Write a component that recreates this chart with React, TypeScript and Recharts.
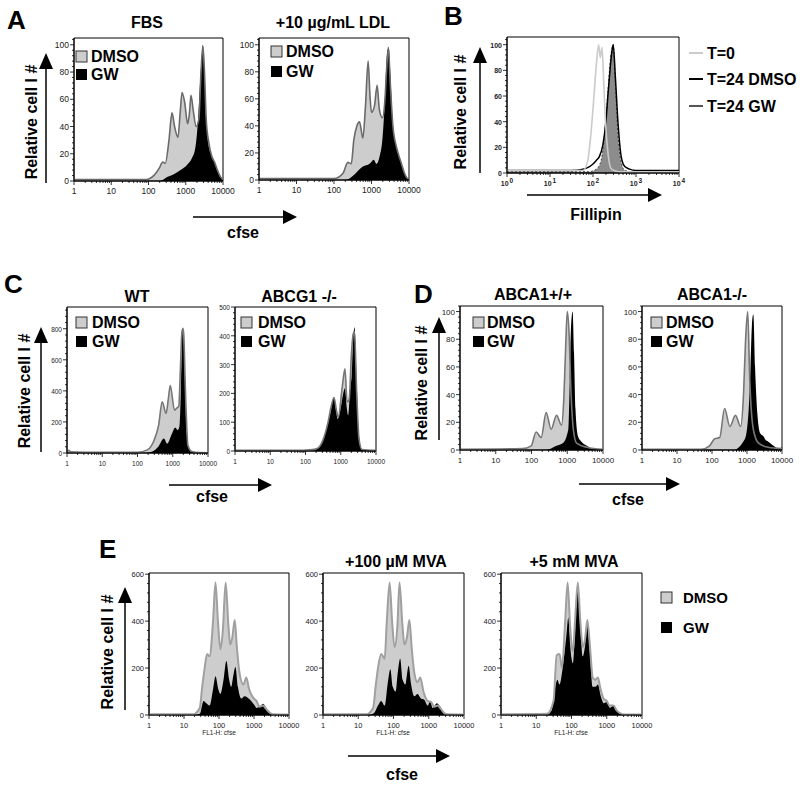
import React from 'react';
import { ComposedChart, Area, Line, XAxis, YAxis, ReferenceArea } from 'recharts';

const FONT = '"Liberation Sans", Arial, Helvetica, sans-serif';

// x values are in decades of the cfse / fillipin channel (0 = 1, 4 = 10000)
// y values are relative cell number

// A: FBS
const a1DmsoX = [0, 1.9, 2.14, 2.3, 2.38, 2.45, 2.55, 2.63, 2.7, 2.79, 2.85, 2.9, 2.97, 3.05, 3.1, 3.14, 3.2, 3.28, 3.35, 3.41, 3.46, 3.5, 3.55, 3.62, 3.7, 3.77, 3.85, 3.93, 4];
const a1DmsoY = [1, 1, 4, 10, 14, 13, 30, 50, 40, 32, 50, 65, 58, 42, 50, 63, 52, 40, 45, 80, 99, 82, 45, 28, 18, 14, 8, 3, 1];
const a1GwX = [0, 2.3, 2.5, 2.68, 2.86, 3.04, 3.17, 3.26, 3.33, 3.39, 3.43, 3.46, 3.5, 3.55, 3.62, 3.71, 3.8, 3.88, 3.97, 4];
const a1GwY = [0, 0, 3, 5, 8, 12, 17, 25, 45, 75, 92, 100, 80, 45, 25, 18, 12, 6, 2, 0];

// A: +10 ug/mL LDL
const a2DmsoX = [0, 2.0, 2.24, 2.37, 2.46, 2.53, 2.61, 2.68, 2.77, 2.84, 2.91, 2.96, 3.0, 3.08, 3.15, 3.21, 3.29, 3.36, 3.41, 3.45, 3.5, 3.57, 3.66, 3.73, 3.8, 3.88, 3.97, 4];
const a2DmsoY = [1, 1, 5, 13, 12, 30, 40, 43, 31, 55, 88, 62, 50, 55, 70, 52, 46, 60, 85, 98, 72, 40, 25, 18, 12, 5, 1, 1];
const a2GwX = [0, 2.3, 2.5, 2.77, 2.95, 3.06, 3.13, 3.22, 3.29, 3.35, 3.42, 3.46, 3.5, 3.56, 3.62, 3.71, 3.8, 3.88, 3.97, 4];
const a2GwY = [0, 0, 3, 10, 12, 15, 12, 18, 30, 55, 95, 98, 80, 45, 30, 20, 12, 5, 1, 0];

// B: fillipin
const bT0X = [0, 1.77, 1.88, 1.95, 2.0, 2.08, 2.13, 2.17, 2.21, 2.25, 2.29, 2.35, 2.43, 2.6, 4];
const bT0Y = [2, 2, 10, 30, 50, 85, 100, 90, 98, 70, 40, 15, 3, 1, 1];
const bDmsoX = [0, 1.5, 1.77, 1.92, 2.0, 2.08, 2.15, 2.23, 2.3, 2.35, 2.4, 2.43, 2.47, 2.52, 2.58, 2.66, 2.74, 2.85, 3.0, 3.4, 4];
const bDmsoY = [2, 2, 3, 5, 7, 10, 13, 22, 40, 62, 82, 92, 100, 75, 40, 12, 5, 3, 2, 2, 2];
const bGwX = [0, 1.9, 2.08, 2.19, 2.27, 2.35, 2.41, 2.47, 2.52, 2.58, 2.66, 2.74, 2.9, 4];
const bGwY = [1, 1, 3, 10, 30, 65, 90, 100, 70, 30, 8, 2, 1, 1];

// C: WT
const c1DmsoX = [0, 0.05, 0.1, 0.5, 1.5, 2.0, 2.28, 2.47, 2.6, 2.7, 2.81, 2.87, 2.93, 3.05, 3.12, 3.17, 3.22, 3.26, 3.29, 3.31, 3.36, 3.43, 3.54, 3.73, 4];
const c1DmsoY = [10, 17, 8, 5, 5, 5, 20, 82, 180, 330, 255, 340, 435, 276, 290, 300, 560, 780, 800, 770, 400, 50, 10, 3, 2];
const c1GwX = [0, 2.2, 2.42, 2.59, 2.75, 2.84, 2.98, 3.07, 3.14, 3.19, 3.23, 3.26, 3.29, 3.33, 3.38, 3.45, 3.54, 4];
const c1GwY = [0, 0, 10, 40, 93, 60, 125, 164, 147, 170, 400, 700, 810, 600, 200, 30, 5, 0];

// C: ABCG1 -/-
const c2DmsoX = [0, 1.68, 2.2, 2.35, 2.5, 2.64, 2.72, 2.81, 2.88, 2.93, 3.04, 3.12, 3.18, 3.24, 3.3, 3.35, 3.39, 3.45, 3.52, 3.6, 4];
const c2DmsoY = [2, 2, 5, 10, 40, 100, 150, 186, 140, 117, 220, 285, 170, 180, 330, 405, 415, 210, 40, 5, 2];
const c2GwX = [0, 2.2, 2.35, 2.5, 2.59, 2.69, 2.81, 2.87, 2.91, 3.0, 3.07, 3.12, 3.17, 3.21, 3.27, 3.31, 3.35, 3.39, 3.45, 3.52, 3.6, 4];
const c2GwY = [0, 0, 10, 35, 75, 123, 186, 140, 111, 150, 200, 218, 150, 123, 220, 260, 380, 430, 250, 50, 5, 0];

// D: ABCA1+/+
const d1DmsoX = [0, 1.75, 1.99, 2.13, 2.27, 2.41, 2.55, 2.7, 2.84, 2.9, 2.95, 3.0, 3.05, 3.1, 3.17, 3.26, 3.55, 4];
const d1DmsoY = [0.5, 1, 3, 13, 9, 27, 15, 25, 18, 35, 70, 100, 85, 45, 15, 5, 2, 0.5];
const d1GwX = [0, 2.4, 2.7, 2.88, 3.03, 3.07, 3.1, 3.15, 3.19, 3.23, 3.3, 3.4, 3.55, 3.69, 4];
const d1GwY = [0, 0, 3, 5, 15, 50, 85, 100, 70, 30, 10, 6, 3, 1, 0];

// D: ABCA1-/-
const d2DmsoX = [0, 1.69, 1.93, 2.07, 2.22, 2.36, 2.51, 2.67, 2.82, 2.9, 2.96, 3.02, 3.08, 3.18, 3.33, 3.6, 4];
const d2DmsoY = [0.5, 0.5, 3, 8, 9, 30, 17, 25, 17, 40, 80, 100, 50, 15, 5, 2, 1];
const d2GwX = [0, 2.6, 2.94, 3.05, 3.1, 3.14, 3.18, 3.23, 3.3, 3.38, 3.47, 3.54, 3.61, 3.76, 3.9, 4];
const d2GwY = [0, 0, 8, 30, 60, 90, 98, 60, 25, 12, 10, 7, 6, 3, 1, 2];

// E: no MVA
const e1DmsoX = [0, 1.26, 1.45, 1.52, 1.59, 1.66, 1.73, 1.83, 1.9, 1.97, 2.04, 2.11, 2.19, 2.27, 2.32, 2.38, 2.45, 2.51, 2.59, 2.7, 2.78, 2.86, 2.97, 3.07, 3.16, 3.26, 3.35, 3.45, 3.54, 4];
const e1DmsoY = [3, 3, 30, 120, 200, 260, 250, 400, 565, 400, 280, 360, 565, 380, 300, 330, 405, 290, 175, 130, 160, 110, 75, 60, 35, 40, 25, 10, 3, 2];
const e1GwX = [0, 1.3, 1.45, 1.56, 1.64, 1.73, 1.83, 1.9, 1.98, 2.04, 2.13, 2.21, 2.29, 2.35, 2.4, 2.47, 2.54, 2.64, 2.73, 2.81, 2.92, 3.02, 3.07, 3.16, 3.26, 3.35, 3.45, 3.54, 4];
const e1GwY = [0, 0, 5, 60, 50, 40, 110, 165, 110, 90, 150, 230, 150, 120, 160, 205, 120, 70, 80, 75, 60, 40, 30, 35, 48, 30, 10, 2, 0];

// E: +100 uM MVA
const e2DmsoX = [0, 1.23, 1.42, 1.5, 1.56, 1.65, 1.75, 1.81, 1.89, 1.96, 2.03, 2.11, 2.17, 2.25, 2.31, 2.38, 2.45, 2.52, 2.59, 2.68, 2.76, 2.85, 2.97, 3.07, 3.16, 3.25, 3.35, 3.44, 3.53, 4];
const e2DmsoY = [3, 3, 30, 130, 200, 260, 240, 400, 565, 400, 290, 380, 565, 390, 300, 330, 405, 280, 180, 140, 160, 100, 60, 55, 35, 40, 25, 8, 3, 2];
const e2GwX = [0, 1.3, 1.45, 1.56, 1.65, 1.75, 1.84, 1.91, 1.98, 2.06, 2.12, 2.19, 2.26, 2.34, 2.38, 2.43, 2.5, 2.59, 2.68, 2.78, 2.87, 2.97, 3.04, 3.11, 3.23, 3.3, 3.4, 3.49, 4];
const e2GwY = [0, 0, 8, 40, 60, 40, 140, 195, 120, 100, 180, 240, 150, 130, 170, 210, 130, 80, 90, 70, 65, 40, 60, 30, 50, 40, 15, 3, 0];

// E: +5 mM MVA
const e3DmsoX = [0, 1.3, 1.49, 1.58, 1.66, 1.73, 1.82, 1.89, 1.96, 2.04, 2.1, 2.18, 2.25, 2.32, 2.39, 2.45, 2.53, 2.6, 2.67, 2.75, 2.81, 2.91, 3.0, 3.08, 3.19, 3.28, 3.42, 3.53, 4];
const e3DmsoY = [3, 5, 60, 255, 260, 200, 400, 565, 380, 270, 400, 565, 400, 290, 330, 405, 280, 160, 150, 160, 120, 70, 60, 40, 40, 20, 5, 2, 2];
const e3GwX = [0, 1.3, 1.44, 1.54, 1.6, 1.66, 1.75, 1.85, 1.91, 1.96, 2.04, 2.1, 2.17, 2.25, 2.32, 2.39, 2.45, 2.53, 2.6, 2.68, 2.75, 2.83, 2.92, 3.0, 3.09, 3.19, 3.3, 3.42, 3.53, 4];
const e3GwY = [0, 0, 20, 120, 150, 130, 200, 330, 415, 300, 220, 350, 560, 380, 250, 300, 385, 250, 120, 120, 130, 80, 50, 55, 30, 40, 20, 5, 0, 0];

type Curve = { key: string; x: number[]; y: number[] };
type Layer = { key: string; kind: 'area' | 'line'; fill?: string; stroke?: string; width?: number; dash?: string };

function buildRows(curves: Curve[]) {
  const xs = Array.from(new Set(curves.flatMap((c) => c.x))).sort((a, b) => a - b);
  return xs.map((x) => {
    const row: Record<string, number | null> = { x };
    curves.forEach((c) => {
      const i = c.x.indexOf(x);
      row[c.key] = i >= 0 ? c.y[i] : null;
    });
    return row;
  });
}

// log-style ticks: majors at decades, minors at 2..9
const LOG_TICKS: number[] = [];
for (let d = 0; d < 4; d++) {
  for (let k = 1; k <= 9; k++) LOG_TICKS.push(d + Math.log10(k));
}
LOG_TICKS.push(4);

function linTicks(max: number, step: number) {
  const t: number[] = [];
  for (let i = 0; i * step <= max + 1e-9; i++) t.push(i * step);
  return t;
}

const XTick = (props: any) => {
  const { x, y, payload, fs, bold, pow } = props;
  const v = payload.value as number;
  const major = Math.abs(v - Math.round(v)) < 1e-6;
  return (
    <g>
      <line x1={x} x2={x} y1={y} y2={y + (major ? 4 : 2)} stroke="#000" strokeWidth={0.8} />
      {major &&
        (pow ? (
          <text x={x} y={y + 13} textAnchor="middle" fontSize={fs} fontWeight="bold" fontFamily={FONT} fill="#222">
            10
            <tspan dx={1} dy={-3} fontSize={fs - 0.5}>
              {Math.round(v)}
            </tspan>
          </text>
        ) : (
          <text x={x} y={y + 13} textAnchor="middle" fontSize={fs} fontWeight={bold ? 'bold' : 'normal'} fontFamily={FONT} fill="#222">
            {Math.round(10 ** v)}
          </text>
        ))}
    </g>
  );
};

const YTick = (props: any) => {
  const { x, y, payload, fs, bold, major } = props;
  const v = payload.value as number;
  const isMajor = Math.abs(v / major - Math.round(v / major)) < 1e-6;
  return (
    <g>
      <line x1={x} x2={x - (isMajor ? 4 : 2)} y1={y} y2={y} stroke="#000" strokeWidth={0.8} />
      {isMajor && (
        <text x={x - 5} y={y + 3} textAnchor="end" fontSize={fs} fontWeight={bold ? 'bold' : 'normal'} fontFamily={FONT} fill="#222">
          {v}
        </text>
      )}
    </g>
  );
};

interface HistoProps {
  x: number;
  y: number;
  w: number;
  h: number;
  yTop: number;
  yMajor: number;
  yMinor: number;
  curves: Curve[];
  layers: Layer[];
  fs: number;
  bold?: boolean;
  pow?: boolean;
}

const AX_W = 34;
const AX_H = 22;
const PAD = 6;
const RIGHT = 20;

const Histo: React.FC<HistoProps> = (p) => {
  const rows = buildRows(p.curves);
  const yTicks = linTicks(Math.floor(p.yTop / p.yMinor) * p.yMinor, p.yMinor);
  return (
    <div style={{ position: 'absolute', left: p.x - AX_W, top: p.y - PAD }}>
      <ComposedChart
        width={p.w + AX_W + RIGHT}
        height={p.h + PAD + AX_H}
        data={rows}
        margin={{ top: PAD, right: RIGHT, bottom: 0, left: 0 }}
      >
        <XAxis
          dataKey="x"
          type="number"
          domain={[0, 4]}
          ticks={LOG_TICKS}
          interval={0}
          height={AX_H}
          tickLine={false}
          tickSize={0}
          tickMargin={0}
          axisLine={{ stroke: '#000' }}
          tick={<XTick fs={p.fs} bold={p.bold} pow={p.pow} />}
        />
        <YAxis
          type="number"
          domain={[0, p.yTop]}
          ticks={yTicks}
          interval={0}
          width={AX_W}
          tickLine={false}
          tickSize={0}
          tickMargin={0}
          axisLine={{ stroke: '#000' }}
          tick={<YTick fs={p.fs} bold={p.bold} major={p.yMajor} />}
        />
        {p.layers.map((l, i) =>
          l.kind === 'area' ? (
            <Area
              key={i}
              dataKey={l.key}
              type="monotone"
              fill={l.fill}
              fillOpacity={1}
              stroke={l.stroke ?? 'none'}
              strokeWidth={l.width ?? 1}
              strokeDasharray={l.dash}
              connectNulls
              dot={false}
              activeDot={false}
              isAnimationActive={false}
            />
          ) : (
            <Line
              key={i}
              dataKey={l.key}
              type="monotone"
              stroke={l.stroke}
              strokeWidth={l.width ?? 1.5}
              connectNulls
              dot={false}
              activeDot={false}
              isAnimationActive={false}
            />
          )
        )}
        <ReferenceArea x1={0} x2={4} y1={0} y2={p.yTop} fill="none" stroke="#000" strokeWidth={1} />
      </ComposedChart>
    </div>
  );
};

const cfseLayers = (outline: string, width: number): Layer[] => [
  { key: 'dmso', kind: 'area', fill: '#cdcdcd' },
  { key: 'gw', kind: 'area', fill: '#000' },
  { key: 'dmso', kind: 'line', stroke: outline, width },
];

const pair = (dx: number[], dy: number[], gx: number[], gy: number[]): Curve[] => [
  { key: 'dmso', x: dx, y: dy },
  { key: 'gw', x: gx, y: gy },
];

const UpArrow = ({ x, tip, bottom }: { x: number; tip: number; bottom: number }) => (
  <g>
    <line x1={x} x2={x} y1={bottom} y2={tip + 12} stroke="#000" strokeWidth={1.5} />
    <polygon points={`${x - 7},${tip + 16} ${x},${tip} ${x + 7},${tip + 16}`} fill="#000" />
  </g>
);

const RightArrow = ({ y, start, tip }: { y: number; start: number; tip: number }) => (
  <g>
    <line x1={start} x2={tip - 10} y1={y} y2={y} stroke="#000" strokeWidth={1.5} />
    <polygon points={`${tip - 14},${y - 7} ${tip},${y} ${tip - 14},${y + 7}`} fill="#000" />
  </g>
);

const YLabel = ({ x, y }: { x: number; y: number }) => (
  <text x={x} y={y} transform={`rotate(-90 ${x} ${y})`} textAnchor="middle" fontSize={16} fontWeight="bold" fontFamily={FONT}>
    Relative cell l #
  </text>
);

const Title = ({ x, y, children }: { x: number; y: number; children: React.ReactNode }) => (
  <text x={x} y={y} textAnchor="middle" fontSize={16} fontWeight="bold" fontFamily={FONT}>
    {children}
  </text>
);

const Letter = ({ x, y, children }: { x: number; y: number; children: React.ReactNode }) => (
  <text x={x} y={y} fontSize={26} fontWeight="bold" fontFamily={FONT}>
    {children}
  </text>
);

const Legend2 = ({ x, y, tx, fs, gap }: { x: number; y: number; tx: number; fs: number; gap: number }) => (
  <g fontFamily={FONT} fontWeight="bold" fontSize={fs}>
    <rect x={x} y={y} width={11} height={11} fill="#cdcdcd" stroke="#333" strokeWidth={1} />
    <text x={tx} y={y + 11}>DMSO</text>
    <rect x={x} y={y + gap} width={11} height={11} fill="#000" />
    <text x={tx} y={y + gap + 11}>GW</text>
  </g>
);

const App: React.FC = () => {
  return (
    <div style={{ position: 'absolute', left: 0, top: 0, width: 800, height: 788, background: '#fff', overflow: 'hidden' }}>
      <Histo x={74} y={38} w={149} h={143} yTop={105} yMajor={20} yMinor={4} fs={8.5}
        curves={pair(a1DmsoX, a1DmsoY, a1GwX, a1GwY)} layers={cfseLayers('#6a6a6a', 1.6)} />
      <Histo x={259} y={38} w={150} h={142} yTop={105} yMajor={20} yMinor={4} fs={8.5}
        curves={pair(a2DmsoX, a2DmsoY, a2GwX, a2GwY)} layers={cfseLayers('#6a6a6a', 1.6)} />
      <Histo x={507} y={37} w={172} h={136} yTop={106} yMajor={20} yMinor={4} fs={7} bold pow
        curves={[
          { key: 't0', x: bT0X, y: bT0Y },
          { key: 'dmso', x: bDmsoX, y: bDmsoY },
          { key: 'gw', x: bGwX, y: bGwY },
        ]}
        layers={[
          { key: 'gw', kind: 'area', fill: '#8c8c8c', stroke: '#444', width: 1, dash: '2 2' },
          { key: 'dmso', kind: 'line', stroke: '#000', width: 1.5 },
          { key: 't0', kind: 'line', stroke: '#cbcbcb', width: 1.6 },
        ]} />

      <Histo x={67} y={307} w={141} h={146} yTop={940} yMajor={200} yMinor={40} fs={6.5}
        curves={pair(c1DmsoX, c1DmsoY, c1GwX, c1GwY)} layers={cfseLayers('#777', 1.6)} />
      <Histo x={235} y={307} w={141} h={144} yTop={500} yMajor={100} yMinor={20} fs={6.5}
        curves={pair(c2DmsoX, c2DmsoY, c2GwX, c2GwY)} layers={cfseLayers('#777', 1.6)} />

      <Histo x={460} y={306} w={143} h={144} yTop={104} yMajor={20} yMinor={4} fs={8}
        curves={pair(d1DmsoX, d1DmsoY, d1GwX, d1GwY)} layers={cfseLayers('#777', 1.6)} />
      <Histo x={642} y={306} w={140} h={144} yTop={104} yMajor={20} yMinor={4} fs={8}
        curves={pair(d2DmsoX, d2DmsoY, d2GwX, d2GwY)} layers={cfseLayers('#777', 1.6)} />

      <Histo x={149} y={573} w={140} h={142} yTop={605} yMajor={200} yMinor={40} fs={7.5}
        curves={pair(e1DmsoX, e1DmsoY, e1GwX, e1GwY)} layers={cfseLayers('#a0a0a0', 2)} />
      <Histo x={323} y={573} w={141} h={142} yTop={605} yMajor={200} yMinor={40} fs={7.5}
        curves={pair(e2DmsoX, e2DmsoY, e2GwX, e2GwY)} layers={cfseLayers('#a0a0a0', 2)} />
      <Histo x={501} y={573} w={141} h={142} yTop={605} yMajor={200} yMinor={40} fs={7.5}
        curves={pair(e3DmsoX, e3DmsoY, e3GwX, e3GwY)} layers={cfseLayers('#a0a0a0', 2)} />

      <svg width={800} height={788} style={{ position: 'absolute', left: 0, top: 0, pointerEvents: 'none' }}>
        {/* panel letters */}
        <Letter x={7} y={29}>A</Letter>
        <Letter x={444} y={25}>B</Letter>
        <Letter x={4} y={293}>C</Letter>
        <Letter x={414} y={303}>D</Letter>
        <Letter x={99} y={558}>E</Letter>

        {/* titles */}
        <Title x={147} y={28}>FBS</Title>
        <Title x={333} y={28}>+10 µg/mL LDL</Title>
        <Title x={137} y={302}>WT</Title>
        <Title x={299} y={302}>ABCG1 -/-</Title>
        <Title x={533} y={300}>ABCA1+/+</Title>
        <Title x={712} y={300}>ABCA1-/-</Title>
        <Title x={396} y={567}>+100 µM MVA</Title>
        <Title x={574} y={567}>+5 mM MVA</Title>

        {/* y labels and arrows */}
        <YLabel x={37} y={122} />
        <UpArrow x={46} tip={53} bottom={183} />
        <YLabel x={466} y={112} />
        <UpArrow x={480} tip={47} bottom={173} />
        <YLabel x={30} y={391} />
        <UpArrow x={41} tip={327} bottom={452} />
        <YLabel x={427} y={383} />
        <UpArrow x={439} tip={317} bottom={440} />
        <YLabel x={113} y={652} />
        <UpArrow x={125} tip={587} bottom={710} />

        {/* x arrows and labels */}
        <RightArrow y={217} start={193} tip={297} />
        <text x={243} y={238} textAnchor="middle" fontSize={16} fontWeight="bold" fontFamily={FONT}>cfse</text>
        <RightArrow y={195} start={527} tip={662} />
        <text x={596} y={220} textAnchor="middle" fontSize={16} fontWeight="bold" fontFamily={FONT}>Fillipin</text>
        <RightArrow y={485} start={169} tip={272} />
        <text x={212} y={502} textAnchor="middle" fontSize={16} fontWeight="bold" fontFamily={FONT}>cfse</text>
        <RightArrow y={484} start={579} tip={680} />
        <text x={628} y={505} textAnchor="middle" fontSize={16} fontWeight="bold" fontFamily={FONT}>cfse</text>
        <RightArrow y={756} start={348} tip={450} />
        <text x={402} y={780} textAnchor="middle" fontSize={16} fontWeight="bold" fontFamily={FONT}>cfse</text>

        {/* FL1-H axis captions */}
        {[219, 393, 571].map((cx) => (
          <text key={cx} x={cx} y={735} textAnchor="middle" fontSize={6.5} fontFamily={FONT} fill="#222">
            FL1-H: cfse
          </text>
        ))}

        {/* in-plot legends */}
        <Legend2 x={76} y={51} tx={91} fs={16} gap={18} />
        <Legend2 x={271} y={46} tx={286} fs={16} gap={20} />
        <Legend2 x={76} y={317} tx={92} fs={16} gap={19} />
        <Legend2 x={241} y={317} tx={258} fs={16} gap={19} />
        <Legend2 x={473} y={317} tx={487} fs={16} gap={19} />
        <Legend2 x={651} y={317} tx={666} fs={16} gap={19} />
        <Legend2 x={661} y={592} tx={683} fs={15} gap={30} />

        {/* panel B legend */}
        <g fontFamily={FONT} fontWeight="bold" fontSize={16}>
          <line x1={689} x2={703} y1={53} y2={53} stroke="#cbcbcb" strokeWidth={2} />
          <text x={707} y={59}>T=0</text>
          <line x1={689} x2={703} y1={79} y2={79} stroke="#000" strokeWidth={2} />
          <text x={707} y={85}>T=24 DMSO</text>
          <line x1={689} x2={703} y1={106} y2={106} stroke="#555" strokeWidth={2} />
          <text x={707} y={112}>T=24 GW</text>
        </g>
      </svg>
    </div>
  );
};

export default App;
